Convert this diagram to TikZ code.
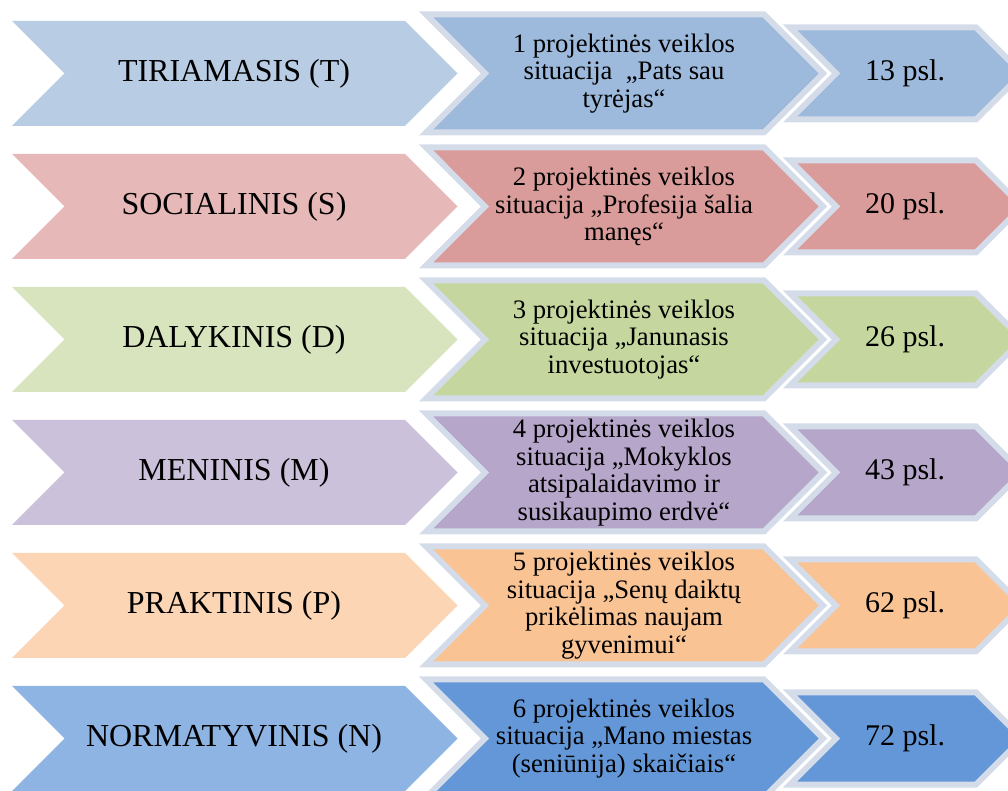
\documentclass[tikz,border=0pt]{standalone}
\usepackage{fontspec}
\setmainfont{Liberation Serif}

\definecolor{edge}{HTML}{D4DCEA}
\definecolor{blueL}{HTML}{B8CCE4}
\definecolor{blueD}{HTML}{9DB9DB}
\definecolor{redL}{HTML}{E6B9B8}
\definecolor{redD}{HTML}{DA9C9A}
\definecolor{greenL}{HTML}{D7E4BD}
\definecolor{greenD}{HTML}{C5D79E}
\definecolor{violetL}{HTML}{CCC1DA}
\definecolor{violetD}{HTML}{B6A6CA}
\definecolor{orangeL}{HTML}{FCD5B5}
\definecolor{orangeD}{HTML}{FAC394}
\definecolor{navyL}{HTML}{8EB4E3}
\definecolor{navyD}{HTML}{6397D8}

% #1 style, #2 left x, #3 body end x, #4 centre y, #5 half height
\newcommand{\chevron}[5]{%
	\draw[#1] ({#2},{#4-#5}) -- ({#3},{#4-#5}) -- ({#3+#5},{#4}) -- ({#3},{#4+#5})
		-- ({#2},{#4+#5}) -- ({#2+#5},{#4}) -- cycle;}

\begin{document}
\begin{tikzpicture}[x=0.75pt, y=-0.75pt,
		every node/.style={align=center, inner sep=0pt},
		area/.style={fill=#1, draw=none},
		boxed/.style={fill=#1, draw=edge, line width=4.5pt},
		title/.style={font=\fontsize{24}{28}\selectfont},
		sit/.style={font=\fontsize{20}{20.8}\selectfont},
		page/.style={font=\fontsize{22.5}{26}\selectfont}]

	\useasboundingbox (0,0) rectangle (1008,791);
	\clip (0,0) rectangle (1008,791);

	\chevron{area=blueL}{12}{405}{73.5}{52.5}
	\chevron{boxed=blueD}{426}{764}{73.5}{59}
	\chevron{boxed=blueD}{790}{976}{73.5}{46}
	\node[title] (tiriamasis) at (234,73.5) {TIRIAMASIS (T)};
	\node[sit] (situacija1) at (624,73.5) {1 projektinės veiklos\\situacija~ „Pats sau\\tyrėjas“};
	\node[page] (puslapis1) at (905,73.5) {13 psl.};

	\chevron{area=redL}{12}{405}{206.5}{52.5}
	\chevron{boxed=redD}{426}{764}{206.5}{59}
	\chevron{boxed=redD}{790}{976}{206.5}{46}
	\node[title] (socialinis) at (234,206.5) {SOCIALINIS (S)};
	\node[sit] (situacija2) at (624,206.5) {2 projektinės veiklos\\situacija „Profesija šalia\\manęs“};
	\node[page] (puslapis2) at (905,206.5) {20 psl.};

	\chevron{area=greenL}{12}{405}{339.5}{52.5}
	\chevron{boxed=greenD}{426}{764}{339.5}{59}
	\chevron{boxed=greenD}{790}{976}{339.5}{46}
	\node[title] (dalykinis) at (234,339.5) {DALYKINIS (D)};
	\node[sit] (situacija3) at (624,339.5) {3 projektinės veiklos\\situacija „Janunasis\\investuotojas“};
	\node[page] (puslapis3) at (905,339.5) {26 psl.};

	\chevron{area=violetL}{12}{405}{472.5}{52.5}
	\chevron{boxed=violetD}{426}{764}{472.5}{59}
	\chevron{boxed=violetD}{790}{976}{472.5}{46}
	\node[title] (meninis) at (234,472.5) {MENINIS (M)};
	\node[sit] (situacija4) at (624,472.5) {4 projektinės veiklos\\situacija „Mokyklos\\atsipalaidavimo ir\\susikaupimo erdvė“};
	\node[page] (puslapis4) at (905,472.5) {43 psl.};

	\chevron{area=orangeL}{12}{405}{605.5}{52.5}
	\chevron{boxed=orangeD}{426}{764}{605.5}{59}
	\chevron{boxed=orangeD}{790}{976}{605.5}{46}
	\node[title] (praktinis) at (234,605.5) {PRAKTINIS (P)};
	\node[sit] (situacija5) at (624,605.5) {5 projektinės veiklos\\situacija „Senų daiktų\\prikėlimas naujam\\gyvenimui“};
	\node[page] (puslapis5) at (905,605.5) {62 psl.};

	\chevron{area=navyL}{12}{405}{738.5}{52.5}
	\chevron{boxed=navyD}{426}{764}{738.5}{59}
	\chevron{boxed=navyD}{790}{976}{738.5}{46}
	\node[title] (normatyvinis) at (234,738.5) {NORMATYVINIS (N)};
	\node[sit] (situacija6) at (624,738.5) {6 projektinės veiklos\\situacija „Mano miestas\\(seniūnija) skaičiais“};
	\node[page] (puslapis6) at (905,738.5) {72 psl.};

\end{tikzpicture}
\end{document}
